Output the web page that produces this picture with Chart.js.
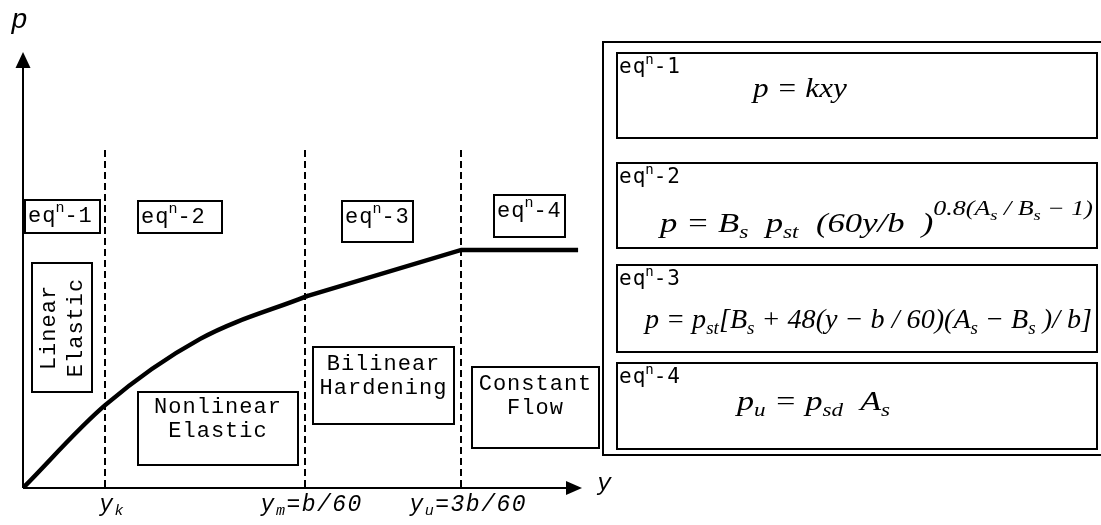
<!DOCTYPE html>
<html>
<head>
<meta charset="utf-8">
<script src="https://cdn.jsdelivr.net/npm/chart.js@4.4.0/dist/chart.umd.min.js"></script>
<style>
  html, body { margin: 0; padding: 0; background: #fff; }
  canvas { display: block; }
</style>
</head>
<body>
<canvas id="pyChart" width="1101" height="525"></canvas>
<script>
// p-y curve, in plot units (x: 0..100 displacement, y: 0..100 resistance)
const curveX = [0, 14.7, 31.7, 50.8, 78.4, 99.3];
const curveY = [0, 19.0, 34.2, 44.0, 54.6, 54.6];
const elasticEnd = 3; // index where the bilinear (straight) part starts

// stage boundaries along the y axis
const boundaryX = [14.7, 50.4, 78.4];
const boundaryTop = 77.5;
const tickLabels = ['y_k', 'y_m=b/60', 'y_u=3b/60'];

// stage names and equations
const stageNums = ['1', '2', '3', '4'];
const stageNames = [['Linear', 'Elastic'], ['Nonlinear', 'Elastic'], ['Bilinear', 'Hardening'], ['Constant', 'Flow']];

// equation runs: [text, kind]  m = main, s = subscript, S = superscript, Ss = sub inside superscript
const equations = [
    [['p = kxy', 'm']],
    [['p = B', 'm'], ['s', 's'], ['  p', 'm'], ['st', 's'], ['  (60y/b  )', 'm'],
     ['0.8', 'S'], ['(', 'S'], ['A', 'S'], ['s', 'Ss'], [' / B', 'S'], ['s', 'Ss'], [' \u2212 1)', 'S']],
    [['p = p', 'm'], ['st', 's'], ['[B', 'm'], ['s', 's'], [' + 48(y \u2212 b / 60)(A', 'm'],
     ['s', 's'], [' \u2212 B', 'm'], ['s', 's'], [' )/ b]', 'm']],
    [['p', 'm'], ['u', 's'], [' = p', 'm'], ['sd', 's'], ['  A', 'm'], ['s', 's']]
];

// layout of the boxes (canvas pixels)
const tagBoxes = [
    { x: 25, y: 200, w: 75, h: 33 },
    { x: 138, y: 201, w: 84, h: 32 },
    { x: 342, y: 201, w: 71, h: 41 },
    { x: 494, y: 195, w: 71, h: 42 }
];
const nameBoxes = [
    { x: 32, y: 263, w: 60, h: 129 },
    { x: 138, y: 392, w: 160, h: 73 },
    { x: 313, y: 347, w: 141, h: 77 },
    { x: 472, y: 367, w: 127, h: 81 }
];
const panel = { left: 603, top: 42, right: 1102, bottom: 455 };
const eqBoxes = [
    { top: 53, bottom: 138, base: 97, x0: 753, x1: 847 },
    { top: 163, bottom: 248, base: 232, x0: 660, x1: 1093 },
    { top: 265, bottom: 352, base: 328, x0: 645, x1: 1092 },
    { top: 363, bottom: 449, base: 410, x0: 737, x1: 890 }
];
const eqBoxLeft = 617, eqBoxRight = 1097;

const MONO = '"Liberation Mono", "Courier New", monospace';
const SANSMONO = '"DejaVu Sans Mono", monospace';
const SERIF = '"Liberation Serif", "Times New Roman", serif';

const runStyle = {
    m: { size: 28, dy: 0 },
    s: { size: 19, dy: 6 },
    S: { size: 21, dy: -17 },
    Ss: { size: 15, dy: -12 }
};

// "eq^n-1" style tag
function drawTag(c, x, y, num, size, family, spacing) {
    c.letterSpacing = spacing + 'px';
    c.font = size + 'px ' + family;
    c.fillText('eq', x, y);
    let w = c.measureText('eq').width - spacing;
    c.font = Math.round(size * 0.66) + 'px ' + family;
    c.fillText('n', x + w, y - size * 0.45);
    w += c.measureText('n').width - spacing;
    c.font = size + 'px ' + family;
    c.fillText('-' + num, x + w, y);
    c.letterSpacing = '0px';
}

// equation runs, squeezed/stretched to fit between x0 and x1
function drawEquation(c, runs, x0, x1, base) {
    let total = 0;
    runs.forEach(r => {
        c.font = 'italic ' + runStyle[r[1]].size + 'px ' + SERIF;
        total += c.measureText(r[0]).width;
    });
    c.save();
    c.translate(x0, base);
    c.scale((x1 - x0) / total, 1);
    let x = 0;
    runs.forEach(r => {
        const st = runStyle[r[1]];
        c.font = 'italic ' + st.size + 'px ' + SERIF;
        c.fillText(r[0], x, st.dy);
        x += c.measureText(r[0]).width;
    });
    c.restore();
}

// tick label like y_m=b/60
function drawTick(c, label, cx, y) {
    const base = label[0], sub = label[2], rest = label.slice(3);
    const big = 'italic 23px ' + MONO, small = 'italic 15px ' + MONO;
    c.letterSpacing = '1.5px';
    c.font = big; const wb = c.measureText(base).width, wr = c.measureText(rest).width;
    c.font = small; const ws = c.measureText(sub).width;
    let x = cx - (wb + ws + wr) / 2;
    c.textAlign = 'left';
    c.font = big; c.fillText(base, x, y); x += wb;
    c.font = small; c.fillText(sub, x, y + 4); x += ws;
    c.font = big; c.fillText(rest, x, y);
    c.letterSpacing = '0px';
}

const diagramPlugin = {
    id: 'diagram',
    beforeDatasetsDraw(chart) {
        const c = chart.ctx, a = chart.chartArea;
        const xs = chart.scales.x, ys = chart.scales.y;
        c.save();
        c.fillStyle = '#000';
        c.strokeStyle = '#000';

        // axes with arrow heads
        c.lineWidth = 2;
        c.beginPath();
        c.moveTo(a.left, a.bottom); c.lineTo(a.left, a.top + 10);
        c.moveTo(a.left, a.bottom); c.lineTo(a.right - 10, a.bottom);
        c.stroke();
        c.beginPath();
        c.moveTo(a.left, a.top); c.lineTo(a.left - 7.5, a.top + 16); c.lineTo(a.left + 7.5, a.top + 16);
        c.closePath(); c.fill();
        c.beginPath();
        c.moveTo(a.right, a.bottom); c.lineTo(a.right - 16, a.bottom - 7); c.lineTo(a.right - 16, a.bottom + 7);
        c.closePath(); c.fill();

        // stage boundaries
        c.setLineDash([7, 4]);
        c.lineWidth = 2;
        boundaryX.forEach(v => {
            const px = Math.round(xs.getPixelForValue(v));
            c.beginPath();
            c.moveTo(px, ys.getPixelForValue(boundaryTop));
            c.lineTo(px, a.bottom);
            c.stroke();
        });
        c.setLineDash([]);

        // axis titles and ticks
        c.textBaseline = 'alphabetic';
        c.font = 'italic 28px ' + MONO;
        c.fillText('p', 11, 28);
        c.font = 'italic 24px ' + MONO;
        c.fillText('y', 597, 490);
        boundaryX.forEach((v, i) => drawTick(c, tickLabels[i], xs.getPixelForValue(v) + 7, 511));

        // stage tag boxes
        c.lineWidth = 2;
        tagBoxes.forEach((b, i) => {
            c.fillStyle = '#fff';
            c.fillRect(b.x, b.y, b.w, b.h);
            c.fillStyle = '#000';
            c.strokeRect(b.x, b.y, b.w, b.h);
            c.textAlign = 'left';
            drawTag(c, b.x + 3, b.y + 22, stageNums[i], 22, MONO, 1);
        });

        // stage name boxes
        nameBoxes.forEach((b, i) => {
            c.strokeRect(b.x, b.y, b.w, b.h);
            c.font = '22px ' + MONO;
            c.letterSpacing = '1px';
            c.textAlign = 'center';
            if (i === 0) {
                c.save();
                c.translate(b.x + b.w / 2, b.y + b.h / 2);
                c.rotate(-Math.PI / 2);
                c.fillText(stageNames[i][0], 0, -7);
                c.fillText(stageNames[i][1], 0, 20);
                c.restore();
            } else {
                const cx = b.x + b.w / 2;
                const off = i === 1 ? 21 : 23;
                c.fillText(stageNames[i][0], cx, b.y + off);
                c.fillText(stageNames[i][1], cx, b.y + off + 24);
            }
            c.letterSpacing = '0px';
        });

        // equations panel
        c.textAlign = 'left';
        c.strokeRect(panel.left, panel.top, panel.right - panel.left, panel.bottom - panel.top);
        eqBoxes.forEach((b, i) => {
            c.strokeRect(eqBoxLeft, b.top, eqBoxRight - eqBoxLeft, b.bottom - b.top);
            drawTag(c, eqBoxLeft + 2, b.top + 20, stageNums[i], 21, SANSMONO, 1);
            drawEquation(c, equations[i], b.x0, b.x1, b.base);
        });
        c.restore();
    }
};

const points = curveX.map((x, i) => ({ x: x, y: curveY[i] }));

const ctx = document.getElementById('pyChart').getContext('2d');
const myChart = new Chart(ctx, {
    type: 'scatter',
    data: {
        datasets: [{
            data: points.slice(0, elasticEnd + 1),
            showLine: true,
            borderColor: '#000',
            borderWidth: 4.5,
            pointRadius: 0,
            cubicInterpolationMode: 'monotone',
            borderCapStyle: 'round',
            borderJoinStyle: 'round'
        }, {
            data: points.slice(elasticEnd),
            showLine: true,
            borderColor: '#000',
            borderWidth: 4.5,
            pointRadius: 0,
            tension: 0,
            borderCapStyle: 'butt',
            borderJoinStyle: 'miter'
        }]
    },
    options: {
        responsive: false,
        animation: false,
        events: [],
        layout: { padding: { left: 23, right: 519, top: 52, bottom: 37 } },
        scales: {
            x: { type: 'linear', min: 0, max: 100, display: false },
            y: { type: 'linear', min: 0, max: 100, display: false }
        },
        plugins: {
            legend: { display: false },
            tooltip: { enabled: false }
        }
    },
    plugins: [diagramPlugin]
});
</script>
</body>
</html>
